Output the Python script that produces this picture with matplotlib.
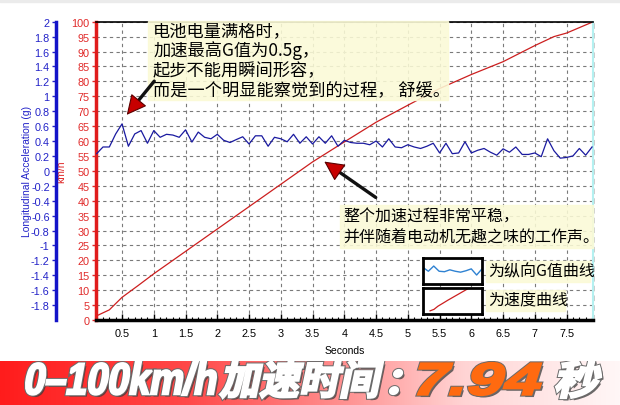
import numpy as np
import matplotlib
matplotlib.use('Agg')
import matplotlib.pyplot as plt
from matplotlib import patheffects as pe
from matplotlib.patches import Rectangle, PathPatch, FancyArrowPatch
from matplotlib.textpath import TextPath
from matplotlib.font_manager import FontProperties
from matplotlib.transforms import Affine2D
from matplotlib.colors import LinearSegmentedColormap

plt.rcParams['font.family'] = ['Liberation Sans', 'Noto Sans CJK SC', 'DejaVu Sans']
plt.rcParams['axes.unicode_minus'] = False

# ----------------------------
# data
# ----------------------------
# longitudinal acceleration (g), one sample every 0.1 s from 0.1 s
g_start = 0.1
g_step = 0.1
g_values = [
    0.23, 0.32, 0.32, 0.495, 0.63, 0.33, 0.495, 0.54, 0.37, 0.54,
    0.45, 0.49, 0.48, 0.45, 0.55, 0.386, 0.52, 0.45, 0.43, 0.49,
    0.41, 0.38, 0.42, 0.457, 0.36, 0.47, 0.47, 0.33, 0.45, 0.43,
    0.39, 0.49, 0.37, 0.457, 0.36, 0.457, 0.37, 0.47, 0.33, 0.41,
    0.38, 0.37, 0.37, 0.35, 0.40, 0.32, 0.43, 0.32, 0.31, 0.35,
    0.32, 0.30, 0.33, 0.37, 0.24, 0.37, 0.23, 0.24, 0.39, 0.24,
    0.276, 0.30, 0.25, 0.21, 0.295, 0.25, 0.32, 0.22, 0.22, 0.24,
    0.19, 0.43, 0.27, 0.17, 0.18, 0.20, 0.30, 0.21, 0.32,
]

# speed (km/h)
speed_time = [0.1, 0.3, 0.5, 0.75, 1.0, 1.5, 2.0, 2.5, 3.0, 3.5,
              4.0, 4.5, 5.0, 5.5, 6.0, 6.5, 7.0, 7.3, 7.5, 7.92]
speed_kmh = [1.4, 3.4, 7.6, 11.5, 15.5, 23.0, 30.5, 38.0, 45.5, 53.0,
             59.7, 66.3, 72.0, 77.6, 82.3, 86.6, 92.0, 95.0, 96.2, 100.0]

time_ticks = [0.5, 1, 1.5, 2, 2.5, 3, 3.5, 4, 4.5, 5, 5.5, 6, 6.5, 7, 7.5]
speed_ticks = list(range(0, 101, 5))
accel_ticks = [-1.8, -1.6, -1.4, -1.2, -1, -0.8, -0.6, -0.4, -0.2, 0,
               0.2, 0.4, 0.6, 0.8, 1, 1.2, 1.4, 1.6, 1.8, 2]

note_top = ['电池电量满格时，', '加速最高G值为0.5g，', '起步不能用瞬间形容，',
            '而是一个明显能察觉到的过程， 舒缓。']
note_mid = ['整个加速过程非常平稳，', '并伴随着电动机无趣之味的工作声。']
legend_labels = ['为纵向G值曲线', '为速度曲线']
banner_parts = ['0–100km/h', '加速时间', '：', '7.94', '秒']

W, H = 620, 406


def px(x, y):
    return x / W, 1 - y / H


RED = '#e02828'
BLUE = '#2222c8'
CJK = ['Noto Sans CJK SC', 'DejaVu Sans']

fig = plt.figure(figsize=(W / 100, H / 100), dpi=100)
fig.patches.append(Rectangle((0, 1 - 3 / H), 1, 3 / H, transform=fig.transFigure,
                             color='#ebebeb', zorder=0))

# ----------------------------
# main axes: speed
# ----------------------------
ax = fig.add_axes([96 / W, 1 - 321 / H, 497.3 / W, 298.3 / H])
ax.plot(speed_time, speed_kmh, color='#cc1f1f', lw=0.9)
ax.set_xlim(0.09, 7.92)
ax.set_ylim(0, 100)
ax.set_xticks(time_ticks)
ax.set_xticklabels([f'{t:g}' for t in time_ticks])
ax.set_xticks(np.arange(1, 80) / 10, minor=True)
ax.set_yticks(speed_ticks)
ax.grid(True, which='major', ls=(0, (3, 3)), color='#7a7a7a', lw=0.8)
ax.tick_params(axis='y', colors=RED, labelsize=7.8, direction='out', length=3, width=1, pad=1.5)
ax.tick_params(axis='x', which='major', direction='in', length=4, width=1,
               labelsize=7.8, pad=6)
ax.tick_params(axis='x', which='minor', direction='in', length=2.5, width=0.8)
ax.set_xlabel('Seconds', fontsize=7.5, labelpad=5)
ax.set_ylabel('km/h', color=RED, fontsize=7.5)
ax.yaxis.set_label_coords((66 - 96) / 497.3, 0.5)

ax.spines['left'].set_color('#e01c1c')
ax.spines['left'].set_linewidth(2.5)
ax.spines['bottom'].set_linewidth(2.5)
ax.spines['top'].set_linewidth(1.2)
ax.spines['right'].set_color('#b4f0f0')
ax.spines['right'].set_linewidth(1.5)
ax.axvline(7.92, color='black', ls=(0, (4, 3)), lw=1, clip_on=False)

# ----------------------------
# twin axes: acceleration
# ----------------------------
ax2 = ax.twinx()
g_time = g_start + g_step * np.arange(len(g_values))
ax2.plot(g_time, g_values, color='#1a1aa0', lw=0.9)
ax2.set_ylim(-2, 2)
ax2.yaxis.set_ticks_position('left')
ax2.yaxis.set_label_position('left')
ax2.spines['left'].set_position(('outward', 40 * 72 / 100))
ax2.spines['left'].set_color('#1414c8')
ax2.spines['left'].set_linewidth(2.5)
for s in ['right', 'top', 'bottom']:
    ax2.spines[s].set_visible(False)
ax2.set_yticks(accel_ticks)
ax2.set_yticklabels([f'{v:g}' for v in accel_ticks])
ax2.tick_params(axis='y', colors=BLUE, labelsize=7.8, direction='out', length=3, width=1, pad=1.5)
ax2.set_ylabel('Longitudinal Acceleration (g)', color=BLUE, fontsize=7.5)
ax2.yaxis.set_label_coords((32 - 96) / 497.3, 0.5)

# ----------------------------
# notes and arrows
# ----------------------------
NOTE_BG = '#fbfad6'
for (x0, y0, x1, y1) in [(148, 22, 448, 101), (340, 206, 593, 249),
                         (486, 262, 590, 283), (486, 291, 565, 312)]:
    fig.patches.append(Rectangle(px(x0, y1), (x1 - x0) / W, (y1 - y0) / H,
                                 transform=fig.transFigure, color=NOTE_BG,
                                 alpha=0.88, zorder=1))

for line, y in zip(note_top, [31, 51, 71, 91]):
    fig.text(*px(153, y), line, family=CJK, fontsize=12.4, weight='medium',
             va='center', zorder=5)
for line, y in zip(note_mid, [217, 238]):
    fig.text(*px(343, y), line, family=CJK, fontsize=11.5, weight='medium',
             va='center', zorder=5)


def arrow(tail, tip, head_len=16):
    tx, ty = tail
    hx, hy = tip
    d = np.hypot(hx - tx, hy - ty)
    bx = hx - (hx - tx) / d * head_len
    by = hy - (hy - ty) / d * head_len
    fig.add_artist(FancyArrowPatch(
        px(tx, ty), px(bx, by), transform=fig.transFigure,
        arrowstyle='-', color='#101010', lw=2.4, zorder=6))
    fig.add_artist(FancyArrowPatch(
        px(bx + (tx - bx) * 0.05, by + (ty - by) * 0.05), px(hx, hy),
        transform=fig.transFigure,
        arrowstyle='-|>,head_length=0.9,head_width=0.45', mutation_scale=14,
        fc='#c80000', ec='#5a0000', lw=0.8, zorder=6))


arrow((156, 80), (125, 118))
arrow((378, 200), (322, 161))

# ----------------------------
# hand-made legend
# ----------------------------
box1 = fig.add_axes([423 / W, 1 - 285 / H, 59 / W, 26 / H])
box1.plot(g_time[44:56], g_values[44:56], color='#2f82d2', lw=1)
box1.set_xlim(g_time[44], g_time[55])
box1.set_ylim(0.05, 0.6)
box2 = fig.add_axes([423 / W, 1 - 315 / H, 59 / W, 26 / H])
box2.plot(speed_time[:7], speed_kmh[:7], color='#cc1f1f', lw=0.9)
box2.set_xlim(-0.26, 2.74)
box2.set_ylim(-2.8, 31.8)
for b in (box1, box2):
    b.set_xticks([])
    b.set_yticks([])
    for s in b.spines.values():
        s.set_linewidth(2)

fig.text(*px(488, 272), legend_labels[0], family=CJK, fontsize=11.5, weight='medium',
         va='center', zorder=5)
fig.text(*px(488, 301), legend_labels[1], family=CJK, fontsize=11.5, weight='medium',
         va='center', zorder=5)

# ----------------------------
# banner
# ----------------------------
bax = fig.add_axes([0, 0, 1, 44 / H])
grad = np.linspace(0, 1, 256).reshape(1, -1)
cmap = LinearSegmentedColormap.from_list(
    'banner', [(0, '#ff1c1c'), (0.3, '#ff4848'), (0.55, '#ff8f8f'),
               (0.75, '#ffd4d4'), (1, '#fff7f7')])
bax.imshow(grad, cmap=cmap, aspect='auto', extent=[0, W, 0, 44])
bax.set_xlim(0, W)
bax.set_ylim(0, 44)
bax.axis('off')

boxes = [(25, 217, 366, 397), (219, 384, 364, 400), (389, 403, 374, 396),
         (417, 542, 367, 397), (555, 602, 364, 400)]
colors = ['white', 'white', 'white', '#ff6a10', 'white']
families = ['Liberation Sans', 'Noto Sans CJK SC', 'Noto Sans CJK SC',
            'Liberation Sans', 'Noto Sans CJK SC']

for text, (x0, x1, top, bot), c, fam in zip(banner_parts, boxes, colors, families):
    path = TextPath((0, 0), text, size=40, prop=FontProperties(family=fam, weight='black'))
    path = Affine2D().skew_deg(12, 0).transform_path(path)
    (ex0, ey0), (ex1, ey1) = path.get_extents().get_points()
    sx = (x1 - x0 - 2) / (ex1 - ex0)
    sy = (top - bot - 2) / (ey1 - ey0) * -1
    path = (Affine2D().translate(-ex0, -ey0).scale(sx, sy)
            .translate(x0 + 1, H - bot + 1).transform_path(path))
    bax.add_patch(PathPatch(path, fc=c, ec='none', path_effects=[
        pe.SimplePatchShadow(offset=(1.8, -1.8), shadow_rgbFace='#3a3a3a', alpha=0.75),
        pe.Stroke(linewidth=3.0, foreground='#6a6a6a'),
        pe.Stroke(linewidth=1.6, foreground=c),
        pe.Normal()]))

fig.savefig('out.png', dpi=100)
